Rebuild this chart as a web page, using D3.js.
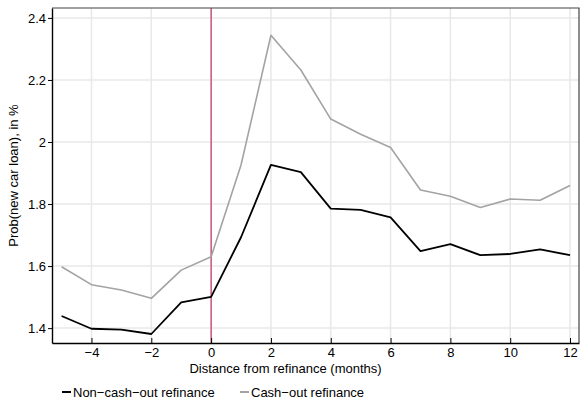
<!DOCTYPE html>
<html>
<head>
<meta charset="utf-8">
<script src="https://cdn.jsdelivr.net/npm/d3@7"></script>
<style>
  html, body { margin: 0; padding: 0; background: #fff; }
  svg { display: block; font-family: "Liberation Sans", Arial, sans-serif; }
</style>
</head>
<body>
<svg id="chart" width="580" height="403"></svg>
<script>
// Months relative to the refinance date
const months = [-5, -4, -3, -2, -1, 0, 1, 2, 3, 4, 5, 6, 7, 8, 9, 10, 11, 12];

// Probability of a new car loan (%), by refinance type
const nonCashOut = [1.439, 1.398, 1.395, 1.381, 1.483, 1.501, 1.693, 1.926, 1.903, 1.785, 1.781, 1.757,
                    1.648, 1.671, 1.635, 1.639, 1.654, 1.635];
const cashOut = [1.598, 1.540, 1.523, 1.496, 1.587, 1.630, 1.926, 2.344, 2.232, 2.074, 2.025, 1.982,
                 1.845, 1.825, 1.789, 1.816, 1.812, 1.860];

const xTicks = [-4, -2, 0, 2, 4, 6, 8, 10, 12];
const yTicks = [1.4, 1.6, 1.8, 2.0, 2.2, 2.4];

const seriesNames = ["Non\u2212cash\u2212out refinance", "Cash\u2212out refinance"];
const seriesColors = ["#000000", "#a3a3a3"];

const svg = d3.select("#chart");
const plotL = 52, plotR = 579, plotT = 8, plotB = 343;

const x = d3.scaleLinear().domain([-5.32, 12.3]).range([plotL, plotR]);
const y = d3.scaleLinear().domain([1.352, 2.432]).range([plotB, plotT]);

// Grid lines
svg.append("g").selectAll("line").data(yTicks).join("line")
  .attr("x1", plotL).attr("x2", plotR)
  .attr("y1", d => y(d)).attr("y2", d => y(d))
  .attr("stroke", "#e8e8e8").attr("stroke-width", 1.5);
svg.append("g").selectAll("line").data(xTicks).join("line")
  .attr("y1", plotT).attr("y2", plotB)
  .attr("x1", d => x(d)).attr("x2", d => x(d))
  .attr("stroke", "#e8e8e8").attr("stroke-width", 1.5);

// Refinance month marker
svg.append("line")
  .attr("x1", x(0)).attr("x2", x(0)).attr("y1", plotT).attr("y2", plotB)
  .attr("stroke", "#b5123f").attr("stroke-width", 1);

// Plot frame (top and right)
svg.append("path")
  .attr("d", `M${plotL},${plotT}H${plotR}V${plotB}`)
  .attr("fill", "none").attr("stroke", "#444").attr("stroke-width", 1.2);

// Series lines
const line = d3.line().x((d, i) => x(months[i])).y(d => y(d));
[[cashOut, 1], [nonCashOut, 0]].forEach(([vals, idx]) => {
  svg.append("path").datum(vals)
    .attr("d", line)
    .attr("fill", "none")
    .attr("stroke", seriesColors[idx])
    .attr("stroke-width", idx === 0 ? 1.8 : 1.6)
    .attr("stroke-linejoin", "round");
});

// Axes
const xAxis = d3.axisBottom(x).tickValues(xTicks).tickSizeInner(-5).tickSizeOuter(0)
  .tickFormat(d => d < 0 ? "\u2212" + Math.abs(d) : d);
const gx = svg.append("g").attr("transform", `translate(0,${plotB})`).call(xAxis);
gx.attr("font-family", null);
gx.select(".domain").attr("stroke", "#000").attr("stroke-width", 1.4);
gx.selectAll(".tick line").attr("stroke", "#000");
gx.selectAll(".tick text").attr("y", 5).attr("dy", "0.71em").attr("font-size", 13).attr("fill", "#000");

const yAxis = d3.axisLeft(y).tickValues(yTicks).tickSizeInner(4).tickSizeOuter(0)
  .tickFormat(d => d === 2 ? "2" : d3.format(".1f")(d));
const gy = svg.append("g").attr("transform", `translate(${plotL},0)`).call(yAxis);
gy.attr("font-family", null);
gy.select(".domain").attr("stroke", "#000").attr("stroke-width", 1.4);
gy.selectAll(".tick line").attr("stroke", "#000");
gy.selectAll(".tick text").attr("x", -6).attr("font-size", 13).attr("fill", "#000");

// Axis titles
svg.append("text")
  .attr("x", (plotL + plotR) / 2 - 30).attr("y", 373)
  .attr("text-anchor", "middle").attr("font-size", 13)
  .text("Distance from refinance (months)");
svg.append("text")
  .attr("transform", `translate(18,${(plotT + plotB) / 2}) rotate(-90)`)
  .attr("text-anchor", "middle").attr("font-size", 13)
  .text("Prob(new car loan), in %");

// Legend
const legendX = [62, 240];
seriesNames.forEach((name, i) => {
  const g = svg.append("g").attr("transform", `translate(${legendX[i]},397)`);
  g.append("line").attr("x1", 0).attr("x2", 9).attr("y1", -5).attr("y2", -5)
    .attr("stroke", seriesColors[i]).attr("stroke-width", 2);
  g.append("text").attr("x", 11).attr("y", 0).attr("font-size", 13).text(name);
});
</script>
</body>
</html>
